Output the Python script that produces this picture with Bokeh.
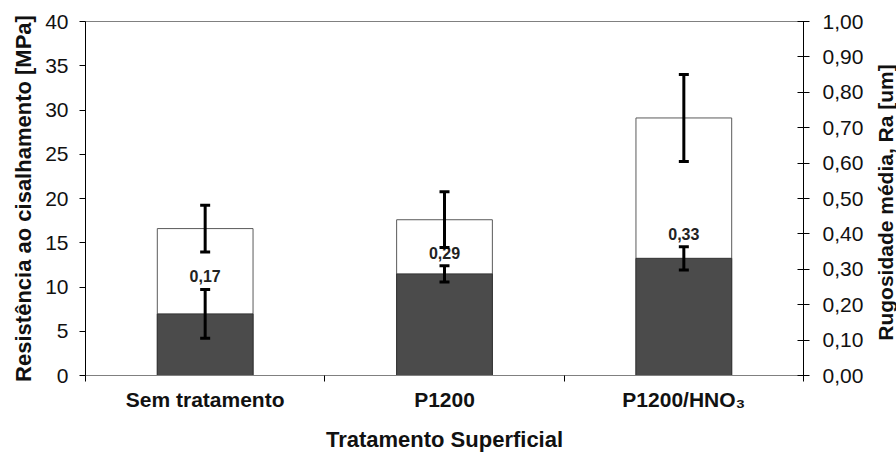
import math
from bokeh.plotting import figure
from bokeh.layouts import row
from bokeh.models import (Range1d, LinearAxis, FixedTicker, Whisker, TeeHead,
                          ColumnDataSource, CustomJSTickFormatter)
from bokeh.embed import file_html
from bokeh.resources import INLINE
from bokeh.core.properties import value

# ---- data ----
categories = ["Sem tratamento", "P1200", "P1200/HNO\u2083"]
shear = [16.6, 17.6, 29.1]          # MPa (left axis)
shear_err = [2.65, 3.15, 4.92]
ra = [0.174, 0.287, 0.331]          # um (right axis)
ra_err = [0.069, 0.023, 0.033]
ra_labels = ["0,17", "0,29", "0,33"]
left_ticks = [0, 5, 10, 15, 20, 25, 30, 35, 40]
right_ticks = [0.0, 0.1, 0.2, 0.3, 0.4, 0.5, 0.6, 0.7, 0.8, 0.9, 1.0]
right_title = "Rugosidade média, Ra [um]"

FONT = "Liberation Sans"
TOP, BOTTOM = 21, 77

xs = [i + 0.5 for i in range(len(categories))]
src = ColumnDataSource(dict(
    x=xs, shear=shear,
    s_up=[v + e for v, e in zip(shear, shear_err)],
    s_lo=[v - e for v, e in zip(shear, shear_err)],
    ra=ra,
    r_up=[v + e for v, e in zip(ra, ra_err)],
    r_lo=[v - e for v, e in zip(ra, ra_err)],
    lab=ra_labels,
))

p = figure(width=866, height=454, x_range=Range1d(0, len(categories)),
           y_range=Range1d(0, 40), output_backend="svg", toolbar_location=None,
           min_border_left=85, min_border_right=62, min_border_top=TOP,
           min_border_bottom=BOTTOM, background_fill_color="white",
           border_fill_color="white")
p.extra_y_ranges = {"ra": Range1d(0, 1.0)}
p.xgrid.visible = False
p.ygrid.visible = False
p.outline_line_color = "#808080"
p.outline_line_width = 1

# bars
p.vbar(x="x", top="shear", bottom=0, width=0.4, source=src,
       fill_color="white", line_color="#5a5a5a", line_width=1)
p.vbar(x="x", top="ra", bottom=0, width=0.4, source=src, y_range_name="ra",
       fill_color="#4b4b4b", line_color="#333333", line_width=1)

# error bars
def head():
    return TeeHead(size=10, line_width=3, line_color="black")

p.add_layout(Whisker(base="x", upper="s_up", lower="s_lo", source=src,
                     dimension="height", line_width=3, line_color="black",
                     upper_head=head(), lower_head=head(), level="overlay"))
p.add_layout(Whisker(base="x", upper="r_up", lower="r_lo", source=src,
                     dimension="height", line_width=3, line_color="black",
                     upper_head=head(), lower_head=head(), y_range_name="ra",
                     level="overlay"))

# value labels
p.text(x="x", y="r_up", text="lab", source=src, y_range_name="ra",
       y_offset=-13, text_align="center", text_baseline="middle",
       text_font=value(FONT), text_font_size="16px", text_font_style="bold",
       text_color="#222222")

# x axis
xa = p.xaxis[0]
xa.ticker = FixedTicker(ticks=xs, minor_ticks=list(range(len(categories) + 1)))
xa.major_label_overrides = {x: c for x, c in zip(xs, categories)}
xa.major_tick_out = 0
xa.major_tick_in = 0
xa.minor_tick_out = 6
xa.minor_tick_in = 0
xa.minor_tick_line_color = "black"
xa.axis_line_color = "#808080"
xa.major_label_standoff = 6
xa.major_label_text_font = FONT
xa.major_label_text_font_size = "21px"
xa.major_label_text_font_style = "bold"
xa.major_label_text_color = "#111111"
xa.axis_label = "Tratamento Superficial"
xa.axis_label_text_font = FONT
xa.axis_label_text_font_size = "22px"
xa.axis_label_text_font_style = "bold"
xa.axis_label_text_color = "#111111"
xa.axis_label_standoff = 13

# left axis
ya = p.yaxis[0]
ya.ticker = FixedTicker(ticks=left_ticks, minor_ticks=[])
ya.major_tick_out = 6
ya.major_tick_in = 0
ya.axis_line_color = "black"
ya.major_label_standoff = 11
ya.major_label_text_font = FONT
ya.major_label_text_font_size = "21px"
ya.major_label_text_color = "#111111"
ya.axis_label = "Resistência ao cisalhamento [MPa]"
ya.axis_label_text_font = FONT
ya.axis_label_text_font_size = "22px"
ya.axis_label_text_font_style = "bold"
ya.axis_label_text_color = "#111111"
ya.axis_label_standoff = 6

# right axis
ra_axis = LinearAxis(y_range_name="ra", ticker=FixedTicker(ticks=right_ticks, minor_ticks=[]),
                     formatter=CustomJSTickFormatter(code="return tick.toFixed(2).replace('.', ',');"))
ra_axis.major_tick_out = 6
ra_axis.major_tick_in = 6
ra_axis.axis_line_color = "black"
ra_axis.major_label_standoff = 13
ra_axis.major_label_text_font = FONT
ra_axis.major_label_text_font_size = "21px"
ra_axis.major_label_text_color = "#111111"
p.add_layout(ra_axis, "right")

# right axis title strip (reads bottom-to-top as in the reference)
t = figure(width=30, height=454, x_range=Range1d(0, 1), y_range=Range1d(0, 1),
           output_backend="svg", toolbar_location=None,
           min_border_left=0, min_border_right=0, min_border_top=TOP,
           min_border_bottom=BOTTOM, background_fill_color="white",
           border_fill_color="white")
t.axis.visible = False
t.grid.visible = False
t.outline_line_color = None
t.text(x=[0.5], y=[0.5], text=[right_title], angle=math.pi / 2,
       x_offset=4, y_offset=4, text_align="center", text_baseline="middle",
       text_font=value(FONT), text_font_size="21px", text_font_style="bold",
       text_color="#111111")

layout = row(p, t, spacing=0)
open("out.html", "w").write(file_html(layout, INLINE))
